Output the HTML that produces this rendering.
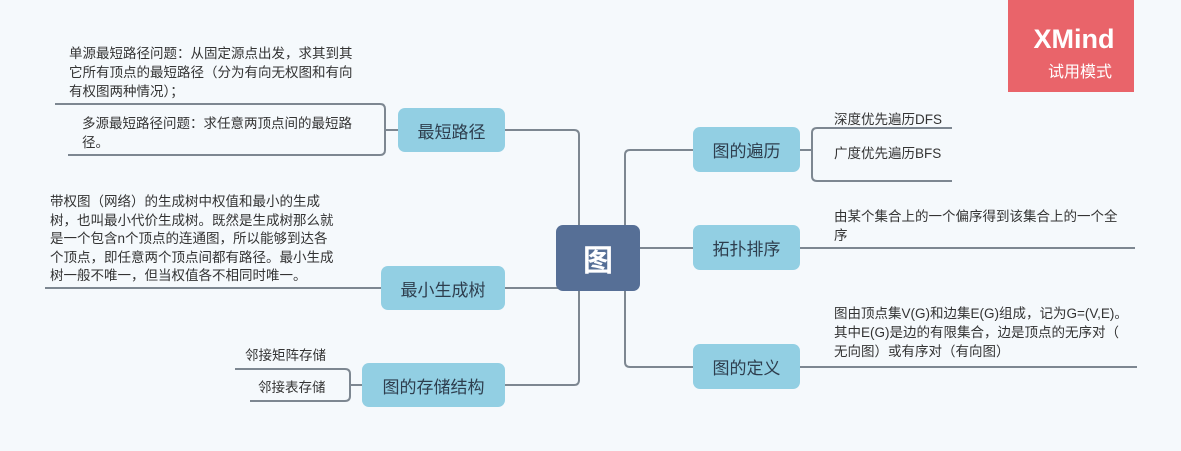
<!DOCTYPE html>
<html><head><meta charset="utf-8"><style>
body{margin:0;width:1181px;height:451px;background:#f5f9fc;position:relative;overflow:hidden;font-family:"Liberation Sans","Noto Sans CJK SC",sans-serif;}
.n{position:absolute;background:#92cfe3;border-radius:7px;color:#2e3e4e;font-size:17px;display:flex;align-items:center;justify-content:center;}
.t{position:absolute;font-size:13.5px;color:#333;line-height:19px;white-space:nowrap;}
</style></head><body>
<svg width="1181" height="451" style="position:absolute;left:0;top:0" fill="none" stroke="#7d8791" stroke-width="2">
<path d="M556 240 H579 M579 135 V380 Q579 385 574 385 H505 M579 135 Q579 130 574 130 H505 M579 288 H505"/>
<path d="M640 248 H693 M625 155 Q625 150 630 150 H693 M625 155 V362 Q625 367 630 367 H693"/>
<path d="M800 150 H812 M812 133 V176 M812 133 Q812 128 817 128 H952 M812 176 Q812 181 817 181 H952"/>
<path d="M800 248 H1135 M800 367 H1137"/>
<path d="M398 130 H385 M385 109 V150 M385 109 Q385 104 380 104 H55 M385 150 Q385 155 380 155 H68"/>
<path d="M381 288 H45"/>
<path d="M362 385 H350 M350 374 V396 M350 374 Q350 369 345 369 H235 M350 396 Q350 401 345 401 H250"/>
</svg>
<div class="n" style="left:556px;top:225px;width:84px;height:66px;background:#566f96;color:#fff;font-size:30px;font-weight:bold;">图</div>
<div class="n" style="left:398px;top:108px;width:107px;height:44px;">最短路径</div>
<div class="n" style="left:381px;top:266px;width:124px;height:44px;">最小生成树</div>
<div class="n" style="left:362px;top:363px;width:143px;height:44px;">图的存储结构</div>
<div class="n" style="left:693px;top:127px;width:107px;height:45px;">图的遍历</div>
<div class="n" style="left:693px;top:225px;width:107px;height:45px;">拓扑排序</div>
<div class="n" style="left:693px;top:344px;width:107px;height:45px;">图的定义</div>
<div class="t" style="left:69px;top:44px;">单源最短路径问题：从固定源点出发，求其到其<br>它所有顶点的最短路径（分为有向无权图和有向<br>有权图两种情况）；</div>
<div class="t" style="left:82px;top:114px;">多源最短路径问题：求任意两顶点间的最短路<br>径。</div>
<div class="t" style="left:50px;top:193px;line-height:18.5px;">带权图（网络）的生成树中权值和最小的生成<br>树，也叫最小代价生成树。既然是生成树那么就<br>是一个包含n个顶点的连通图，所以能够到达各<br>个顶点，即任意两个顶点间都有路径。最小生成<br>树一般不唯一，但当权值各不相同时唯一。</div>
<div class="t" style="left:245px;top:346px;">邻接矩阵存储</div>
<div class="t" style="left:258px;top:378px;">邻接表存储</div>
<div class="t" style="left:834px;top:110px;">深度优先遍历DFS</div>
<div class="t" style="left:834px;top:144px;">广度优先遍历BFS</div>
<div class="t" style="left:834px;top:207px;">由某个集合上的一个偏序得到该集合上的一个全<br>序</div>
<div class="t" style="left:834px;top:304px;">图由顶点集V(G)和边集E(G)组成，记为G=(V,E)。<br>其中E(G)是边的有限集合，边是顶点的无序对（<br>无向图）或有序对（有向图）</div>
<div style="position:absolute;left:1008px;top:0;width:126px;height:92px;background:#e9646a;color:#fff;text-align:center;">
<div style="font-size:27px;font-weight:bold;margin-top:24px;line-height:30px;padding-left:6px;">XMind</div>
<div style="font-size:16px;margin-top:4px;padding-left:18px;">试用模式</div>
</div>
</body></html>
